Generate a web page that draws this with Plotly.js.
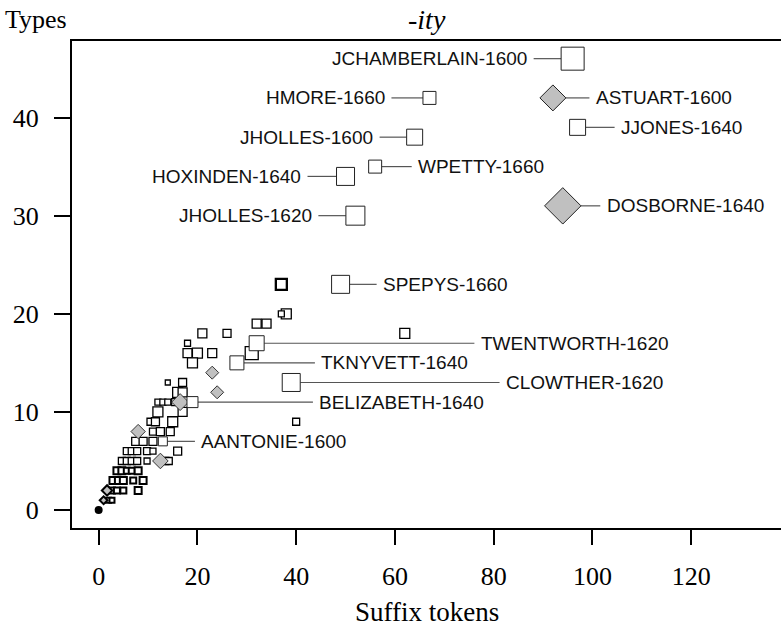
<!DOCTYPE html>
<html>
<head>
<meta charset="utf-8">
<script src="https://cdn.plot.ly/plotly-3.0.1.min.js"></script>
<style>html,body{margin:0;padding:0;background:#fff;}#chart{width:781px;height:631px;}</style>
</head>
<body>
<div id="chart"></div>
<script>
// ---- Data ----
// Labelled writers
const labelNames = ["JCHAMBERLAIN-1600","HMORE-1660","ASTUART-1600","JHOLLES-1600","JJONES-1640",
  "WPETTY-1660","HOXINDEN-1640","JHOLLES-1620","DOSBORNE-1640","SPEPYS-1660",
  "TWENTWORTH-1620","TKNYVETT-1640","CLOWTHER-1620","BELIZABETH-1640","AANTONIE-1600"];
const labelTokens = [96, 67, 92, 64, 97, 56, 50, 52, 94, 49, 32, 28, 39, 19, 13];
const labelTypes  = [46, 42, 42, 38, 39, 35, 34, 30, 31, 23, 17, 15, 13, 11, 7];
const labelWeight = [23, 13, 20, 16, 16, 13, 18, 19, 28, 18, 15, 14, 18, 11, 9];
const labelKind   = ["s","s","d","s","s","s","s","s","d","s","s","s","s","s","s"];

// Unlabelled writers – open squares
const sqTokens = [37,37,38,37,32,34,21,26,31,18,18,20,23,19,17,14,16,17,12,13,14,15.5,17,12,40,62,
  10.5,11.5,15,11,12.5,14.5,7.5,9,11,5.7,6.7,7.8,9.8,11,16,4.7,5.7,6.7,7.8,9.8,13.5,14.2,
  3.7,4.7,5.7,6.7,8,2.9,4,5,7,9,2.7,3.7,5,8,2,2.7];
const sqTypes  = [23,23,20,20,19,19,18,18,16,17,16,16,16,15,13,13,12,12,11,11,11,11,10,10,9,18,
  9,9,9,8,8,8,7,7,7,6,6,6,6,6,6,5,5,5,5,5,5,5,
  4,4,4,4,4,3,3,3,3,3,2,2,2,2,1,1];
const sqWeight = [12,10,10,6,9,9,9,8,13,6,9,10,9,10,8,5,10,9,6,6,6,7,9,10,7,10,
  7,8,10,7,8,8,8,8,8,7,7,7,7,6,8,7,7,7,7,6,7,7,
  7,7,6,6,7,7,7,7,6,7,6,6,6,7,5,5];

// Unlabelled writers – grey diamonds
const dmTokens = [23, 24, 16.5, 8, 12.5, 1.7, 1];
const dmTypes  = [14, 12, 11, 8, 5, 2, 1];
const dmWeight = [10, 10, 13, 11, 12, 8, 6];

// Zero point
const dotTokens = [0];
const dotTypes  = [0];

// Label placement: side and text anchor (data x)
const labelSide = ["l","l","r","l","r","r","l","l","r","r","r","r","r","r","r"];
const labelAt   = [87.0, 58.2, 100.5, 55.8, 105.6, 64.5, 41.2, 43.4, 102.7, 57.4, 77.2, 44.9, 82.3, 44.5, 20.6];

const xTicks = [0, 20, 40, 60, 80, 100, 120];
const yTicks = [0, 10, 20, 30, 40];

// ---- Layout geometry ----
const W = 781, H = 631;
const M = {l: 72, r: 0, t: 41, b: 103};
const xRange = [-5.4, 138.2], yRange = [-1.83, 47.8];
const pxPerX = (W - M.l - M.r) / (xRange[1] - xRange[0]);

// ---- Leader lines from marker edge to label ----
const gap = 1.1;
const lx = [], ly = [];
labelNames.forEach((n, i) => {
  const halfPx = labelKind[i] === "d" ? 0.65 * labelWeight[i] : 0.5 * labelWeight[i];
  const half = halfPx / pxPerX;
  const left = labelSide[i] === "l";
  const start = left ? labelTokens[i] - half : labelTokens[i] + half;
  const end = left ? labelAt[i] + gap : labelAt[i] - gap;
  lx.push(start, end, null);
  ly.push(labelTypes[i], labelTypes[i], null);
});

const traces = [
  {x: lx, y: ly, mode: "lines", line: {color: "#555", width: 1.2}, hoverinfo: "skip"},
  {x: sqTokens, y: sqTypes, mode: "markers",
   marker: {symbol: "square", size: sqWeight, color: "#fff", opacity: 1,
            line: {color: "#000", width: sqTypes.map(v => v <= 4 ? 2 : 1.3)}}},
  {x: dmTokens, y: dmTypes, mode: "markers",
   marker: {symbol: "diamond", size: dmWeight, color: "#c0c0c0", opacity: 1,
            line: {color: dmTypes.map(v => v <= 2 ? "#000" : "#333"), width: dmTypes.map(v => v <= 2 ? 2 : 1)}}},
  {x: dotTokens, y: dotTypes, mode: "markers",
   marker: {symbol: "circle", size: 8, color: "#000"}},
  {x: labelTokens, y: labelTypes, mode: "markers",
   marker: {symbol: labelKind.map(k => k === "d" ? "diamond" : "square"), size: labelWeight, opacity: 1,
            color: labelKind.map(k => k === "d" ? "#c0c0c0" : "#fff"),
            line: {color: "#222", width: 1}}}
];

const annotations = labelNames.map((n, i) => ({
  x: labelAt[i], y: labelTypes[i], xref: "x", yref: "y", text: n, showarrow: false,
  xanchor: labelSide[i] === "l" ? "right" : "left", yanchor: "middle", borderpad: 0,
  font: {family: "Liberation Sans, Arial, sans-serif", size: 19, color: "#111"}
}));
const serif = "Liberation Serif, Times New Roman, serif";
annotations.push(
  {xref: "paper", yref: "paper", x: -0.0975, y: 1.045, xanchor: "left", yanchor: "middle",
   text: "Types", showarrow: false, font: {family: serif, size: 26, color: "#000"}},
  {xref: "paper", yref: "paper", x: 0.5, y: 1.045, xanchor: "center", yanchor: "middle",
   text: "<i>-ity</i>", showarrow: false, font: {family: serif, size: 28, color: "#000"}},
  {xref: "paper", yref: "paper", x: 0.5, y: -0.1725, xanchor: "center", yanchor: "middle",
   text: "Suffix tokens", showarrow: false, font: {family: serif, size: 27, color: "#000"}}
);

const layout = {
  width: W, height: H,
  margin: {l: M.l, r: M.r, t: M.t, b: M.b, pad: 0},
  paper_bgcolor: "#fff", plot_bgcolor: "#fff",
  showlegend: false,
  xaxis: {range: xRange, tickvals: xTicks, ticktext: xTicks.map(String),
    showgrid: false, zeroline: false, showline: true, linecolor: "#000", linewidth: 2, mirror: true,
    ticks: "outside", ticklen: 15, tickwidth: 2, tickcolor: "#000", ticklabelstandoff: 9,
    tickfont: {family: serif, size: 26, color: "#000"}},
  yaxis: {range: yRange, tickvals: yTicks, ticktext: yTicks.map(String),
    showgrid: false, zeroline: false, showline: true, linecolor: "#000", linewidth: 2,
    ticks: "outside", ticklen: 16, tickwidth: 2, tickcolor: "#000", ticklabelstandoff: 10,
    tickfont: {family: serif, size: 26, color: "#000"}},
  annotations: annotations
};

Plotly.newPlot("chart", traces, layout, {displayModeBar: false, staticPlot: true});
</script>
</body>
</html>
